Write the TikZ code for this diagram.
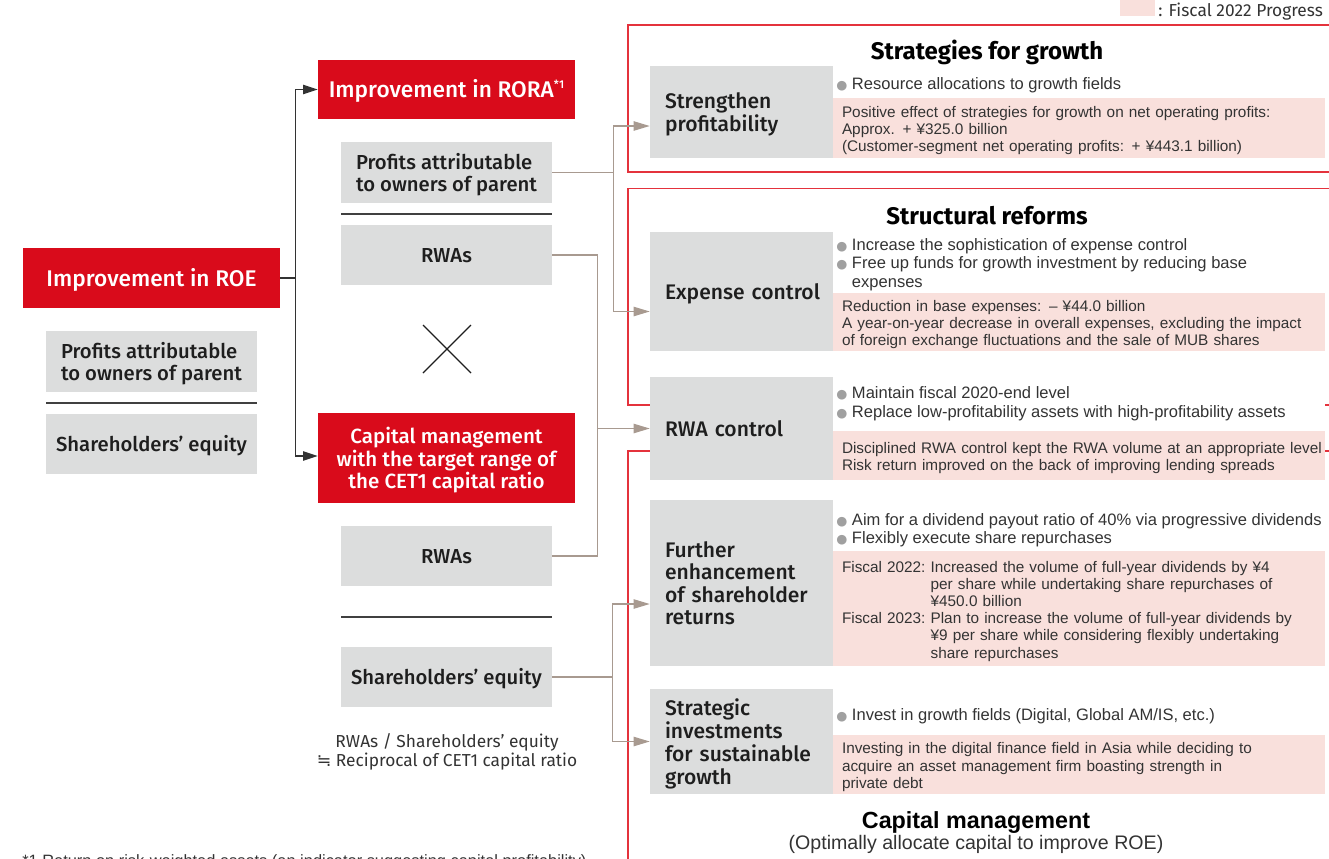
\documentclass[tikz,border=0pt]{standalone}
\usepackage{fontspec}
\setmainfont{Fira Sans}
\newfontfamily\medf{Fira Sans Medium}
\newfontfamily\cond{Liberation Sans}
\newfontfamily\djv{DejaVu Sans}
\usetikzlibrary{arrows.meta,calc}
\definecolor{roered}{HTML}{D90B1B}
\definecolor{boxgray}{HTML}{DCDDDD}
\definecolor{pinkbg}{HTML}{F9E0DC}
\definecolor{connc}{HTML}{A89A90}
\definecolor{framec}{HTML}{E4323C}
\definecolor{bulgray}{HTML}{A0A0A0}
\definecolor{txt}{HTML}{1E1E1E}
\definecolor{bodytxt}{HTML}{333333}
\newcommand\bul{{\djv\fontsize{9.5}{9.5}\selectfont\textcolor{bulgray}{●}}}
% text block, lowered a little inside its box (box size unchanged)
\newcommand\dn[2][l]{\raisebox{-2.3pt}[\height][\depth]{\begin{tabular}{@{}#1@{}}#2\end{tabular}}}
\begin{document}
\begin{tikzpicture}[x=0.75pt,y=-0.75pt,
  redbox/.style={fill=roered, text=white, inner sep=0, align=center, font=\medf\fontsize{17}{19}\selectfont},
  lbox/.style={fill=boxgray, text=txt, inner sep=0, minimum width=211*0.75pt, minimum height=#1*0.75pt, align=left, font=\medf\fontsize{15.2}{16.5}\selectfont},
  rhead/.style={fill=boxgray, text=txt, inner xsep=15*0.75pt, inner ysep=0, text width=153*0.75pt, minimum height=#1*0.75pt, align=left, font=\medf\fontsize{15.8}{16.5}\selectfont},
  pinkbox/.style={fill=pinkbg, text=bodytxt, inner xsep=9*0.75pt, inner ysep=0, text width=474*0.75pt, minimum height=#1*0.75pt, align=left, font=\cond\fontsize{11.5}{12.9}\selectfont},
  bullets/.style={anchor=west, inner sep=0, text=bodytxt, align=left, font=\cond\fontsize{12.4}{13.8}\selectfont},
  divline/.style={draw=txt!85, line width=1.1pt},
  blkline/.style={draw=black!80, line width=0.9pt},
  blkarrow/.style={blkline, -{Triangle[length=11pt,width=7pt]}},
  connline/.style={draw=connc, line width=0.9pt},
  connarrow/.style={connline, -{Triangle[length=12pt,width=7pt]}},
  frameline/.style={draw=framec, line width=1.1pt},
  titlef/.style={inner sep=0, text=black, font=\bfseries\fontsize{18}{20}\selectfont},
]
\useasboundingbox (0,0) rectangle (1329,858);

% legend
\node[fill=pinkbg, inner sep=0, minimum width=35*0.75pt, minimum height=18*0.75pt] (leg) at (1137.5,7) {};
\node[anchor=west, inner sep=0, text=bodytxt, font=\fontsize{13}{15}\selectfont] (legt) at (1158,11.5) {: Fiscal 2022 Progress};

% frames
\draw[frameline] (1330,25) -- (628,25) -- (628,172) -- (1330,172);
\draw[frameline] (1330,188.5) -- (628,188.5) -- (628,405) -- (650,405);
\draw[frameline] (1325,405) -- (1330,405);
\draw[frameline] (650,451) -- (628,451) -- (628,870);
\draw[frameline] (1325,451) -- (1330,451);

% left column
\node[redbox, minimum width=257*0.75pt, minimum height=60*0.75pt] (roe) at (151.5,278) {\dn[c]{Improvement in ROE}};
\node[lbox=61] (lprof) at (151.5,361.5) {\dn{Profits attributable\\to owners of parent}};
\draw[divline] (46,403) -- (257,403);
\node[lbox=60] (lsh) at (151.5,444) {\dn{Shareholders’ equity}};

% middle column
\node[redbox, minimum width=257*0.75pt, minimum height=59*0.75pt] (rora) at (446.5,89.5) {\dn[c]{Improvement in RORA\raisebox{0.75ex}{\fontsize{8.5}{8.5}\selectfont *1}}};
\node[lbox=61] (mprof) at (446.5,172.5) {\dn{Profits attributable\\to owners of parent}};
\draw[divline] (341,214) -- (552,214);
\node[lbox=60, align=center] (mrwa1) at (446.5,255) {\dn[c]{RWAs}};
\draw[draw=txt, line width=1pt] (423,325) -- (471,373);
\draw[draw=txt, line width=1pt] (423,373) -- (471,325);
\node[redbox, minimum width=257*0.75pt, minimum height=90*0.75pt, font=\medf\fontsize{15.4}{16.1}\selectfont] (capm) at (446.5,458) {\dn[c]{Capital management\\with the target range of\\the CET1 capital ratio}};
\node[lbox=60, align=center] (mrwa2) at (446.5,556) {\dn[c]{RWAs}};
\draw[divline] (341,617) -- (552,617);
\node[lbox=60, align=center] (msh) at (446.5,677) {\dn[c]{Shareholders’ equity}};
\node[inner sep=0, align=center, text=bodytxt, font=\fontsize{13}{14.25}\selectfont] (note) at (447,752) {RWAs / Shareholders’ equity\\{\djv ≒} Reciprocal of CET1 capital ratio};

% titles
\node[titlef] (t1) at (987,52) {Strategies for growth};
\node[titlef] (t2) at (987,215.5) {Structural reforms};
\node[inner sep=0, font=\cond\bfseries\fontsize{17.5}{19}\selectfont] (t3) at (976,822.5) {Capital management};
\node[inner sep=0, text=bodytxt, font=\cond\fontsize{14.7}{16}\selectfont] (t4) at (976,844) {(Optimally allocate capital to improve ROE)};

% right column headers
\node[rhead=92] (str) at (741.5,112) {\dn{Strengthen\\profitability}};
\node[rhead=119] (exp) at (741.5,291.5) {\dn{Expense control}};
\node[rhead=103] (rwac) at (741.5,428.5) {\dn{RWA control}};
\node[rhead=166] (fur) at (741.5,583) {\dn{Further\\enhancement\\of shareholder\\returns}};
\node[rhead=105] (sti) at (741.5,741.5) {\dn{Strategic\\investments\\for sustainable\\growth}};

% bullets
\node[bullets] (b1) at (836,86) {\begin{tabular}{@{}l@{\hspace{3.5pt}}l@{}}\bul & Resource allocations to growth fields\end{tabular}};
\node[bullets] (b2) at (836,265) {\begin{tabular}{@{}l@{\hspace{3.5pt}}l@{}}\bul & Increase the sophistication of expense control\\ \bul & Free up funds for growth investment by reducing base\\ & expenses\end{tabular}};
\node[bullets] (b3) at (836,404.5) {\begin{tabular}{@{}l@{\hspace{3.5pt}}l@{}}\bul & Maintain fiscal 2020-end level\\ \bul & Replace low-profitability assets with high-profitability assets\end{tabular}};
\node[bullets] (b4) at (836,531) {\begin{tabular}{@{}l@{\hspace{3.5pt}}l@{}}\bul & Aim for a dividend payout ratio of 40\% via progressive dividends\\ \bul & Flexibly execute share repurchases\end{tabular}};
\node[bullets] (b5) at (836,717) {\begin{tabular}{@{}l@{\hspace{3.5pt}}l@{}}\bul & Invest in growth fields (Digital, Global AM/IS, etc.)\end{tabular}};

% pink progress boxes
\node[pinkbox=60] (p1) at (1079,128) {\dn{Positive effect of strategies for growth on net operating profits:\\Approx. + ¥325.0 billion\\(Customer-segment net operating profits: + ¥443.1 billion)}};
\node[pinkbox=58] (p2) at (1079,322) {\dn{Reduction in base expenses: – ¥44.0 billion\\A year-on-year decrease in overall expenses, excluding the impact\\of foreign exchange fluctuations and the sale of MUB shares}};
\node[pinkbox=49] (p3) at (1079,455.5) {\dn{Disciplined RWA control kept the RWA volume at an appropriate level\\Risk return improved on the back of improving lending spreads}};
\node[pinkbox=115] (p4) at (1079,608.5) {\raisebox{-2.3pt}[\height][\depth]{\begin{tabular}{@{}l@{\ }l@{}}Fiscal 2022: & Increased the volume of full-year dividends by ¥4\\ & per share while undertaking share repurchases of\\ & ¥450.0 billion\\ Fiscal 2023: & Plan to increase the volume of full-year dividends by\\ & ¥9 per share while considering flexibly undertaking\\ & share repurchases\end{tabular}}};
\node[pinkbox=59] (p5) at (1079,764.5) {\dn{Investing in the digital finance field in Asia while deciding to\\acquire an asset management firm boasting strength in\\private debt}};

% black connectors
\draw[blkline] (roe.east) -- ++(15,0) coordinate (j1);
\draw[blkarrow] (j1) |- (rora.west);
\draw[blkarrow] (j1) |- ($(capm.west)+(0,-2)$);

% brown connectors
\coordinate (j2) at ($(mprof.east)+(61,0)$);
\draw[connline] (mprof.east) -- (j2);
\draw[connarrow] (j2) |- ($(str.west)+(0,14)$);
\draw[connarrow] (j2) |- ($(exp.west)+(0,20)$);
\coordinate (j3) at ($(mrwa1.east)+(45,0)$);
\draw[connline] (mrwa1.east) -- (j3) |- (mrwa2.east);
\draw[connarrow] (j3 |- rwac.west) -- (rwac.west);
\coordinate (j4) at ($(msh.east)+(60,0)$);
\draw[connline] (msh.east) -- (j4);
\draw[connarrow] (j4) |- ($(fur.west)+(0,21)$);
\draw[connarrow] (j4) |- (sti.west);

% footnote (clipped at page edge, as in the reference)
\node[anchor=base west, inner sep=0, text=bodytxt, font=\cond\fontsize{12.3}{14}\selectfont] (fn) at (22,866) {*1 Return on risk-weighted assets (an indicator suggesting capital profitability)};
\end{tikzpicture}
\end{document}
